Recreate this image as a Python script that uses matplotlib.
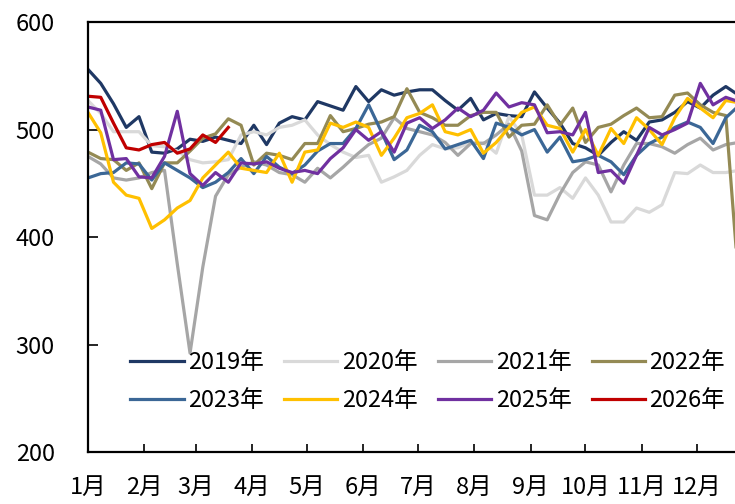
import matplotlib
matplotlib.use("Agg")
import matplotlib.pyplot as plt
import numpy as np

plt.rcParams['font.family'] = ['Noto Sans CJK SC', 'DejaVu Sans']

# weekly readings, one value per week starting 1 Jan
y2019 = [556, 543, 524, 502, 512, 479, 478, 482, 491, 489, 493, 490, 487, 504, 486, 506,
         512, 509, 526, 522, 518, 540, 526, 537, 532, 535, 537, 537, 527, 518, 529, 509,
         515, 513, 512, 535, 520, 506, 487, 483, 476, 488, 498, 490, 507, 509, 516, 526,
         520, 532, 540, 532]
y2020 = [527, 515, 498, 498, 498, 485, 484, 480, 472, 469, 470, 472, 495, 498, 495, 502,
         504, 509, 495, 486, 479, 474, 476, 451, 456, 462, 476, 486, 482, 483, 488, 488,
         478, 512, 495, 439, 439, 446, 436, 455, 439, 414, 414, 427, 423, 430, 460, 459,
         467, 460, 460, 462]
y2021 = [475, 468, 455, 453, 455, 460, 462, 375, 292, 372, 438, 458, 465, 470, 467, 460,
         458, 451, 464, 455, 465, 476, 486, 492, 511, 501, 498, 495, 488, 476, 487, 487,
         495, 505, 480, 420, 416, 440, 460, 470, 467, 442, 467, 487, 487, 484, 478, 486,
         492, 481, 486, 488]
y2022 = [479, 473, 472, 462, 469, 445, 469, 469, 480, 492, 496, 510, 504, 467, 478, 476,
         472, 487, 487, 513, 498, 501, 505, 507, 512, 538, 516, 511, 504, 504, 513, 516,
         516, 493, 504, 505, 523, 504, 520, 488, 502, 505, 513, 520, 511, 512, 532, 534,
         523, 516, 513, 360]
y2023 = [455, 459, 460, 469, 468, 453, 469, 462, 455, 446, 451, 460, 473, 459, 475, 465,
         459, 467, 480, 487, 487, 501, 523, 498, 472, 481, 504, 498, 482, 486, 490, 473,
         506, 502, 495, 500, 479, 493, 470, 472, 476, 470, 458, 476, 487, 493, 502, 507,
         502, 487, 511, 522]
y2024 = [516, 497, 451, 439, 436, 408, 416, 427, 434, 455, 467, 479, 464, 462, 460, 478,
         451, 479, 481, 506, 502, 507, 502, 476, 492, 511, 515, 523, 498, 495, 500, 478,
         488, 502, 516, 521, 504, 501, 479, 500, 476, 501, 487, 511, 500, 486, 511, 529,
         520, 511, 527, 525]
y2025 = [521, 518, 472, 473, 456, 455, 475, 517, 459, 448, 460, 451, 469, 468, 470, 464,
         460, 462, 459, 473, 483, 500, 490, 498, 479, 506, 511, 501, 509, 520, 512, 518,
         534, 521, 525, 523, 497, 498, 495, 516, 460, 462, 450, 476, 502, 495, 500, 506,
         543, 523, 530, 526]
y2026 = [531, 530, 506, 483, 481, 486, 488, 478, 482, 495, 488, 502]

years = ['2019年', '2020年', '2021年', '2022年', '2023年', '2024年', '2025年', '2026年']
series = [y2019, y2020, y2021, y2022, y2023, y2024, y2025, y2026]
colors = ['#1F3864', '#D9D9D9', '#A6A6A6', '#948A54', '#3B6796', '#FFC000', '#7030A0', '#C00000']

month_days = [0, 31, 59, 90, 120, 151, 181, 212, 243, 273, 304, 334]
month_labels = ['1月', '2月', '3月', '4月', '5月', '6月', '7月', '8月', '9月', '10月', '11月', '12月']

fig = plt.figure(figsize=(7.35, 5.04), dpi=100)
ax = fig.add_axes([0.1197, 0.1032, 0.905, 0.853])

lines = []
for name, vals, c in zip(years, series, colors):
    x = np.arange(len(vals)) * 7
    ln, = ax.plot(x, vals, color=c, lw=2.3, label=name)
    lines.append(ln)

ax.set_xlim(0, 365)
ax.set_ylim(200, 600)
ax.set_yticks([200, 300, 400, 500, 600])
ax.set_xticks(month_days)
ax.set_xticklabels(month_labels)

for s in ax.spines.values():
    s.set_linewidth(1.6)
    s.set_color('black')

ax.tick_params(axis='y', direction='in', length=7, width=1.2, pad=24, labelsize=17)
ax.tick_params(axis='x', direction='in', length=6, width=1.2, pad=17, labelsize=17)

# legend fills column by column, so interleave to get 2019-2022 on the first row
order = [0, 4, 1, 5, 2, 6, 3, 7]
ax.legend([lines[i] for i in order], [years[i] for i in order],
          loc='center', bbox_to_anchor=(0.511, 0.164), ncol=4, frameon=False,
          fontsize=17, handlelength=2.25, handletextpad=0.2, columnspacing=0.85,
          labelspacing=0.65, borderpad=0)

fig.savefig('out.png', dpi=100)
